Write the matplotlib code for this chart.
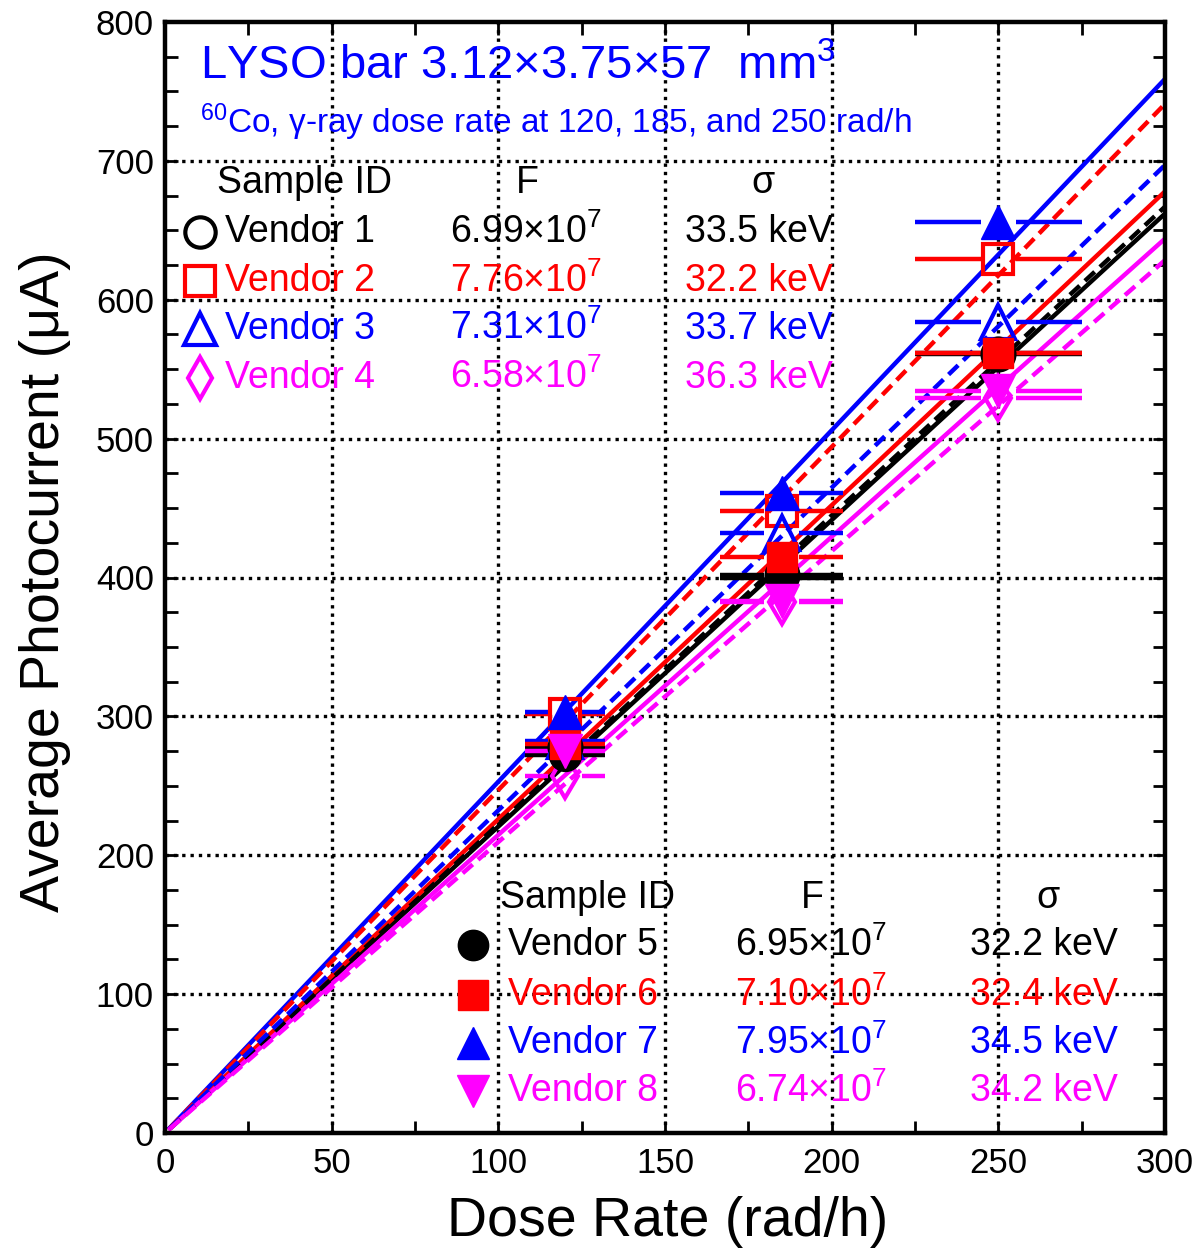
import matplotlib
matplotlib.use("Agg")
import matplotlib.pyplot as plt
import numpy as np

plt.rcParams['font.family'] = ['Liberation Sans', 'DejaVu Sans']
plt.rcParams['mathtext.fontset'] = 'custom'
plt.rcParams['mathtext.rm'] = 'Liberation Sans'
plt.rcParams['mathtext.default'] = 'regular'

# ---- data ----
dose = [120, 185, 250]
xerr_frac = 0.10
vendors = ["Vendor 1", "Vendor 2", "Vendor 3", "Vendor 4",
           "Vendor 5", "Vendor 6", "Vendor 7", "Vendor 8"]
v1 = [278, 402, 561]
v2 = [302, 448, 629]
v3 = [282, 432, 584]
v4 = [257, 382, 529]
v5 = [272, 400, 562]
v6 = [280, 415, 562]
v7 = [303, 461, 656]
v8 = [275, 383, 534]
values = [v1, v2, v3, v4, v5, v6, v7, v8]
# fitted line values at 300 rad/h
fit_at_300 = [667, 741, 697, 628.5, 662, 678, 759, 644]
fit_x = [1.5, 300]
F_vals = ["6.99", "7.76", "7.31", "6.58", "6.95", "7.10", "7.95", "6.74"]
sigma_vals = ["33.5 keV", "32.2 keV", "33.7 keV", "36.3 keV",
              "32.2 keV", "32.4 keV", "34.5 keV", "34.2 keV"]

colors = ['black', '#ff0000', '#0000ff', '#ff00ff',
          'black', '#ff0000', '#0000ff', '#ff00ff']
markers = ['o', 's', '^', 'd', 'o', 's', '^', 'v']
filled = [False] * 4 + [True] * 4
linestyles = ['dashed'] * 4 + ['solid'] * 4
msizes = [23, 22, 24, 22, 23, 22, 24, 24]

fig = plt.figure(figsize=(12.01, 12.54), dpi=100)
ax = fig.add_axes([165/1201, 1-1133/1254, 1000/1201, 1111/1254])
ax.set_xlim(0, 300)
ax.set_ylim(0, 800)

# grid
for gx in [50, 100, 150, 200, 250]:
    ax.axvline(gx, color='black', lw=2.4, ls=(0, (1, 1.5)), zorder=1)
for gy in [100, 200, 300, 400, 500, 600, 700]:
    ax.axhline(gy, color='black', lw=2.4, ls=(0, (1, 1.5)), zorder=1)

# fitted lines
for i in range(8):
    slope = fit_at_300[i] / 300.0
    xs = np.array(fit_x)
    ls = (0, (3.0, 1.6)) if linestyles[i] == 'dashed' else '-'
    ax.plot(xs, slope * xs, color=colors[i], lw=3.2, ls=ls,
            zorder=2 + (0.1 if linestyles[i] == 'dashed' else 0))

# error bars (with gap around marker)
gap = 5.2
for i in range(8):
    for x, y in zip(dose, values[i]):
        dx = xerr_frac * x
        ax.plot([x - dx, x - gap], [y, y], color=colors[i], lw=3.2, solid_capstyle='butt', zorder=3)
        ax.plot([x + gap, x + dx], [y, y], color=colors[i], lw=3.2, solid_capstyle='butt', zorder=3)

# markers
order = [0, 1, 2, 3, 4, 5, 7, 6]
for k, i in enumerate(order):
    if filled[i]:
        ax.plot(dose, values[i], ls='none', marker=markers[i], ms=msizes[i],
                mfc=colors[i], mec=colors[i], mew=1, zorder=5 + k * 0.01)
    else:
        ax.plot(dose, values[i], ls='none', marker=markers[i], ms=msizes[i],
                mfc='none', mec=colors[i], mew=3, zorder=4 + k * 0.01)

# axes styling
for s in ax.spines.values():
    s.set_linewidth(3.2)
ax.set_xticks([0, 50, 100, 150, 200, 250, 300])
ax.set_yticks([0, 100, 200, 300, 400, 500, 600, 700, 800])
ax.set_xticks(np.arange(0, 301, 25), minor=True)
ax.set_yticks(np.arange(0, 801, 25), minor=True)
ax.tick_params(which='both', direction='in', top=True, right=True,
               length=9, width=2, labelsize=25, pad=8)
ax.tick_params(axis='x', pad=10)

# axis labels
fig.text(45/1201, 1-582/1254, "Average Photocurrent (\u03bcA)", rotation=90,
         ha='center', va='center', fontsize=40)
fig.text(668/1201, 1-1222/1254, "Dose Rate (rad/h)", ha='center', va='center', fontsize=40)

# titles
blue = '#0000ff'
ax.text(0.035, 0.948, "LYSO bar 3.12\u00d73.75\u00d757  mm$^{3}$", transform=ax.transAxes,
        color=blue, fontsize=34, ha='left', va='baseline', zorder=6)
ax.text(0.035, 0.900, "$^{60}$Co, \u03b3-ray dose rate at 120, 185, and 250 rad/h",
        transform=ax.transAxes, color=blue, fontsize=24, ha='left', va='baseline', zorder=6)

# upper legend table
ax.text(0.052, 0.855, "Sample ID", transform=ax.transAxes, fontsize=27, ha='left', va='center', zorder=6)
ax.text(0.362, 0.855, "F", transform=ax.transAxes, fontsize=27, ha='center', va='center', zorder=6)
ax.text(0.598, 0.855, "\u03c3", transform=ax.transAxes, fontsize=27, ha='center', va='center', zorder=6)
up_rows = [0.811, 0.767, 0.724, 0.680]
for r, i in enumerate(range(4)):
    y = up_rows[r]
    ax.plot([0.035], [y], transform=ax.transAxes, marker=markers[i], ms=msizes[i] * 0.95,
            mfc='none', mec=colors[i], mew=3, ls='none', zorder=6, clip_on=False)
    ax.text(0.060, y, vendors[i], transform=ax.transAxes, color=colors[i], fontsize=27,
            ha='left', va='center', zorder=6)
    ax.text(0.285, y, F_vals[i] + "\u00d710$^{7}$", transform=ax.transAxes, color=colors[i],
            fontsize=27, ha='left', va='center', zorder=6)
    ax.text(0.520, y, sigma_vals[i], transform=ax.transAxes, color=colors[i], fontsize=27,
            ha='left', va='center', zorder=6)

# lower legend table
ax.text(0.335, 0.2115, "Sample ID", transform=ax.transAxes, fontsize=27, ha='left', va='center', zorder=6)
ax.text(0.647, 0.2115, "F", transform=ax.transAxes, fontsize=27, ha='center', va='center', zorder=6)
ax.text(0.883, 0.2115, "\u03c3", transform=ax.transAxes, fontsize=27, ha='center', va='center', zorder=6)
lo_rows = [0.169, 0.124, 0.081, 0.038]
for r, i in enumerate(range(4, 8)):
    y = lo_rows[r]
    ax.plot([0.308], [y], transform=ax.transAxes, marker=markers[i], ms=msizes[i] * 0.95,
            mfc=colors[i], mec=colors[i], mew=1, ls='none', zorder=6, clip_on=False)
    ax.text(0.343, y, vendors[i], transform=ax.transAxes, color=colors[i], fontsize=27,
            ha='left', va='center', zorder=6)
    ax.text(0.570, y, F_vals[i] + "\u00d710$^{7}$", transform=ax.transAxes, color=colors[i],
            fontsize=27, ha='left', va='center', zorder=6)
    ax.text(0.805, y, sigma_vals[i], transform=ax.transAxes, color=colors[i], fontsize=27,
            ha='left', va='center', zorder=6)

fig.savefig("out.png", dpi=100)
